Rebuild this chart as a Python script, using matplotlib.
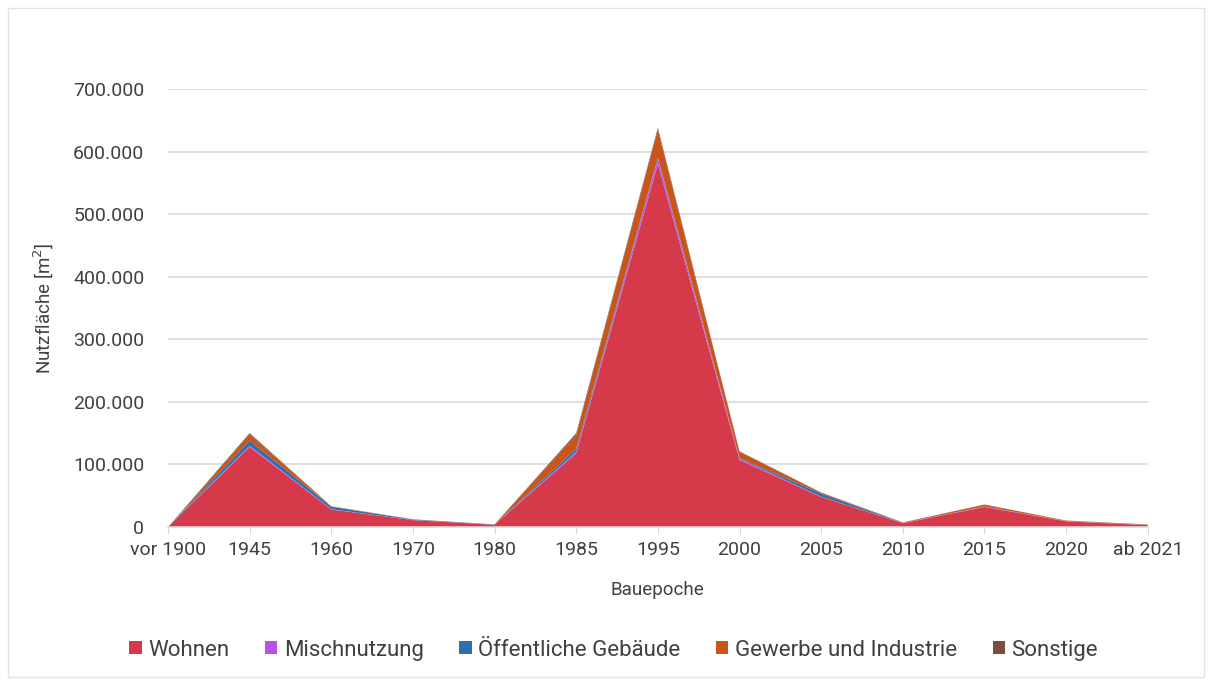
import numpy as np
import matplotlib
matplotlib.use('Agg')
import matplotlib.pyplot as plt
from matplotlib.ticker import FuncFormatter
from matplotlib.patches import Rectangle

plt.rcParams['font.family'] = ['Roboto', 'DejaVu Sans']

epochen = ['vor 1900', '1945', '1960', '1970', '1980', '1985', '1995',
           '2000', '2005', '2010', '2015', '2020', 'ab 2021']

wohnen = [0, 128000, 28000, 11000, 3500, 118000, 580000, 107000, 48000, 6000, 32000, 9000, 3000]
misch = [0, 2000, 500, 200, 100, 2000, 8000, 2000, 500, 200, 500, 200, 100]
oeffentlich = [0, 8000, 4000, 800, 300, 5000, 2000, 1000, 5000, 300, 300, 300, 300]
gewerbe = [0, 10000, 500, 300, 200, 22000, 45000, 10000, 1500, 800, 3000, 800, 600]
sonstige = [0, 2000, 200, 100, 100, 3000, 3000, 1000, 200, 100, 200, 100, 100]

namen = ['Wohnen', 'Mischnutzung', 'Öffentliche Gebäude', 'Gewerbe und Industrie', 'Sonstige']
farben = ['#D63A4A', '#B94FF0', '#2E6FAE', '#C8561A', '#7B4F3C']

fig = plt.figure(figsize=(12.12, 6.84), dpi=100)
ax = fig.add_axes([0.1386, 0.2295, 0.8084, 0.6405])

x = np.arange(len(epochen))
ax.stackplot(x, wohnen, misch, oeffentlich, gewerbe, sonstige,
             colors=farben, labels=namen, linewidth=0)

ax.set_xlim(0, len(epochen) - 1)
ax.set_ylim(0, 700000)
ax.set_yticks(np.arange(0, 700001, 100000))
ax.yaxis.set_major_formatter(FuncFormatter(lambda v, p: f'{int(v):,}'.replace(',', '.')))
ax.set_xticks(x)
ax.set_xticklabels(epochen)

ax.grid(axis='y', color='#D9D9D9', linewidth=1.2)
ax.set_axisbelow(True)
for s in ['top', 'right', 'left']:
    ax.spines[s].set_visible(False)
ax.spines['bottom'].set_color('#D9D9D9')
ax.spines['bottom'].set_linewidth(1.2)
ax.tick_params(axis='y', length=0, pad=17, labelsize=14, labelcolor='#404040')
ax.tick_params(axis='x', length=5, color='#D9D9D9', pad=5, labelsize=14, labelcolor='#404040')

ax.set_xlabel('Bauepoche', fontsize=13.5, color='#404040', labelpad=16)
ax.set_ylabel('Nutzfläche [m$^2$]', fontsize=13.5, color='#404040', labelpad=12)

ax.legend(loc='center', bbox_to_anchor=(0.455, -0.281), ncol=5, frameon=False,
          fontsize=16, labelcolor='#404040', handlelength=0.55, handleheight=0.55,
          handletextpad=0.3, columnspacing=1.6)

fig.patches.append(Rectangle((0.007, 0.01), 0.986, 0.978, transform=fig.transFigure,
                             fill=False, edgecolor='#E3E3E3', linewidth=1))

fig.savefig('out.png', dpi=100)
